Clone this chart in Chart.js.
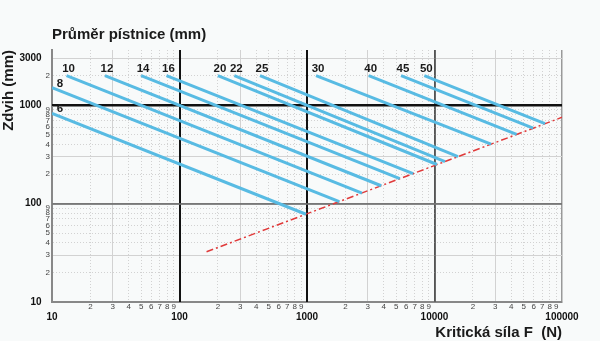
<html>
<head>
<meta charset="UTF-8">
<script src="https://cdn.jsdelivr.net/npm/chart.js@4/dist/chart.umd.min.js"></script>
<style>
  body { margin: 0; background: #f8fafa; }
</style>
</head>
<body>
<canvas id="graf" width="600" height="341"></canvas>

<script>
// průměr pístnice (mm) a krajní body přímek: síla F (N), zdvih (mm)
const prumery   = [6, 8, 10, 12, 14, 16, 20, 22, 25, 30, 40, 45, 50];
const silaZac   = [10, 10, 13, 26, 50, 79, 200, 269, 428, 1177, 3048, 5462, 8318];
const zdvihZac  = [829, 1510, 2000, 2000, 2000, 2000, 2000, 2000, 2000, 2000, 2000, 2000, 2000];
const silaKon   = [982, 1792, 2700, 3819, 5343, 6795, 10460, 12090, 15290, 27750, 44050, 59340, 73570];
const zdvihKon  = [78, 105, 128, 152, 180, 202, 250, 268, 301, 403, 506, 586, 651];

// mezní přímka (čerchovaná)
const mezSila  = [163, 100000];
const mezZdvih = [32.4, 755];

// značky na osách
const xZnacky = [10, 20, 30, 40, 50, 60, 70, 80, 90,
                 100, 200, 300, 400, 500, 600, 700, 800, 900,
                 1000, 2000, 3000, 4000, 5000, 6000, 7000, 8000, 9000,
                 10000, 20000, 30000, 40000, 50000, 60000, 70000, 80000, 90000,
                 100000];
const xHlavni = [10, 100, 1000, 10000, 100000];
const yZnacky = [10, 20, 30, 40, 50, 60, 70, 80, 90,
                 100, 200, 300, 400, 500, 600, 700, 800, 900,
                 1000, 2000, 3000];
const yHlavni = [10, 100, 1000, 3000];

const PISMO = '"Liberation Sans", Arial, sans-serif';

function mantisa(v) {
  return Math.round(v / Math.pow(10, Math.floor(Math.log10(v) + 1e-9)));
}

var datasets = prumery.map(function(d, i) {
  return {
    label: d + ' mm',
    data: [{x: silaZac[i], y: zdvihZac[i]}, {x: silaKon[i], y: zdvihKon[i]}],
    borderColor: '#58bbe3',
    borderWidth: 3,
    borderCapStyle: 'butt',
    pointRadius: 0,
    fill: false
  };
});
datasets.push({
  label: 'mez',
  data: [{x: mezSila[0], y: mezZdvih[0]}, {x: mezSila[1], y: mezZdvih[1]}],
  borderColor: '#e03a3a',
  borderWidth: 1.5,
  borderDash: [7, 3, 2, 3],
  pointRadius: 0,
  fill: false
});

function barvaX(c) {
  if (!c.tick) return '#888';
  const v = c.tick.value;
  if (v === 100 || v === 1000) return '#111';
  if (v === 10000) return '#555';
  if (v === 10 || v === 100000) return '#999';
  return '#d2d2d2';
}
function barvaY(c) {
  if (!c.tick) return '#888';
  const v = c.tick.value;
  if (v === 1000) return '#111';
  if (v === 100) return '#777';
  if (v === 10) return '#888';
  return '#d2d2d2';
}
function sirka(c) {
  if (!c.tick) return 2;
  return mantisa(c.tick.value) === 1 || c.tick.value === 100000 ? 1.5 : 1;
}
function carky(c) {
  if (!c.tick) return [];
  const m = mantisa(c.tick.value);
  return (m === 1 || m === 3 || c.tick.value === 100000) ? [] : [1, 2];
}

// dekadické čáry ještě jednou přes jemnou mřížku, aby nebyly přerušované
const dekady = {
  id: 'dekady',
  beforeDatasetsDraw(chart) {
    const ctx = chart.ctx;
    const a = chart.chartArea;
    const sx = chart.scales.x, sy = chart.scales.y;
    ctx.save();
    ctx.setLineDash([]);
    [100, 1000, 10000].forEach(function(v) {
      const px = Math.round(sx.getPixelForValue(v));
      ctx.strokeStyle = barvaX({tick: {value: v}});
      ctx.lineWidth = v === 10000 ? 1.5 : 2;
      ctx.beginPath(); ctx.moveTo(px, a.top); ctx.lineTo(px, a.bottom); ctx.stroke();
    });
    [100, 1000].forEach(function(v) {
      const py = Math.round(sy.getPixelForValue(v));
      ctx.strokeStyle = barvaY({tick: {value: v}});
      ctx.lineWidth = v === 100 ? 1.5 : 2;
      ctx.beginPath(); ctx.moveTo(a.left, py); ctx.lineTo(a.right, py); ctx.stroke();
    });
    ctx.restore();
  }
};

// popisky průměrů u začátku každé přímky
const popisky = {
  id: 'popisky',
  afterDatasetsDraw(chart) {
    const ctx = chart.ctx;
    const vlevo = chart.chartArea.left + 8;
    ctx.save();
    ctx.font = 'bold 11.5px ' + PISMO;
    ctx.fillStyle = '#1a1a1a';
    ctx.textAlign = 'center';
    ctx.textBaseline = 'alphabetic';
    prumery.forEach(function(d, i) {
      const p = chart.getDatasetMeta(i).data[0];
      const okraj = p.x < vlevo;
      ctx.fillText(String(d), okraj ? vlevo : p.x + 2, p.y - (okraj ? 1 : 4));
    });
    ctx.restore();
  }
};

new Chart(document.getElementById('graf'), {
  type: 'line',
  data: { datasets: datasets },
  options: {
    responsive: false,
    animation: false,
    layout: { padding: { left: 0, right: 38, top: 0, bottom: 0 } },
    plugins: { legend: { display: false }, tooltip: { enabled: false } },
    scales: {
      x: {
        type: 'logarithmic',
        position: 'bottom',
        min: 10,
        max: 100000,
        afterBuildTicks: function(s) { s.ticks = xZnacky.map(function(v) { return {value: v}; }); },
        afterFit: function(s) { s.height = 39; },
        grid: { color: barvaX, lineWidth: sirka, drawTicks: false },
        border: { color: '#888', width: 2, dash: carky },
        ticks: {
          autoSkip: false,
          maxRotation: 0,
          padding: 0,
          color: function(c) { return xHlavni.includes(c.tick.value) ? '#111' : '#444'; },
          font: function(c) {
            return xHlavni.includes(c.tick.value)
              ? {family: PISMO, size: 10, weight: 'bold', lineHeight: 1}
              : {family: PISMO, size: 8, lineHeight: 1.2};
          },
          callback: function(v) { return xHlavni.includes(v) ? ['', String(v)] : String(mantisa(v)); }
        },
        title: {
          display: true,
          text: 'Kritická síla F  (N)',
          align: 'end',
          color: '#1a1a1a',
          font: {family: PISMO, size: 15, weight: 'bold', lineHeight: 1},
          padding: {top: 0, bottom: 1}
        }
      },
      x2: {
        type: 'logarithmic',
        position: 'top',
        min: 10,
        max: 100000,
        afterFit: function(s) { s.height = 50; },
        grid: { display: false },
        border: { display: false },
        ticks: { display: false },
        title: {
          display: true,
          text: 'Průměr pístnice (mm)',
          align: 'start',
          color: '#1a1a1a',
          font: {family: PISMO, size: 15, weight: 'bold', lineHeight: 1.2},
          padding: {top: 26, bottom: 0}
        }
      },
      y: {
        type: 'logarithmic',
        position: 'left',
        min: 10,
        max: 3650,
        afterBuildTicks: function(s) { s.ticks = yZnacky.map(function(v) { return {value: v}; }); },
        afterFit: function(s) { s.width = 52; },
        grid: { color: barvaY, lineWidth: sirka, drawTicks: false },
        border: { color: '#888', width: 2, dash: carky },
        ticks: {
          autoSkip: false,
          padding: 2,
          color: function(c) { return yHlavni.includes(c.tick.value) ? '#111' : '#444'; },
          font: function(c) {
            return yHlavni.includes(c.tick.value)
              ? {family: PISMO, size: 10, weight: 'bold'}
              : {family: PISMO, size: 8};
          },
          callback: function(v) { return yHlavni.includes(v) ? String(v) + '   ' : String(mantisa(v)); }
        },
        title: {
          display: true,
          text: 'Zdvih (mm)',
          align: 'end',
          color: '#1a1a1a',
          font: {family: PISMO, size: 15, weight: 'bold', lineHeight: 1},
          padding: {top: 1, bottom: 0}
        }
      }
    }
  },
  plugins: [dekady, popisky]
});
</script>
</body>
</html>
